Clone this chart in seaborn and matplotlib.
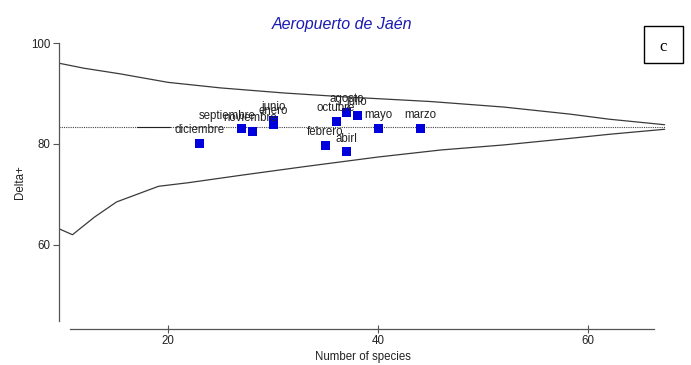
import matplotlib
matplotlib.use("Agg")
import matplotlib.pyplot as plt
import seaborn as sns
import pandas as pd
from matplotlib.patches import Rectangle

# ---- data ----
months = ["diciembre", "septiembre", "noviembre", "junio", "enero", "octubre",
          "agosto", "julio", "mayo", "marzo", "febrero", "abirl"]
species = [23, 27, 28, 30, 30, 36, 37, 38, 40, 44, 35, 37]
delta = [80.1, 83.0, 82.5, 84.65, 83.8, 84.4, 86.3, 85.6, 83.1, 83.0, 79.7, 78.4]

upper_x = [9.6, 12.0, 15.4, 20.0, 25.0, 31.0, 37.0, 45.0, 52.0, 58.3, 62.0, 67.3]
upper_y = [96.0, 95.0, 93.9, 92.2, 91.1, 90.1, 89.3, 88.4, 87.3, 85.9, 84.9, 83.8]
lower_x = [9.6, 10.9, 13.0, 15.1, 19.1, 21.9, 27.0, 33.0, 40.0, 46.0, 52.0, 58.3, 62.0, 67.3]
lower_y = [63.2, 62.0, 65.5, 68.5, 71.6, 72.3, 73.8, 75.5, 77.4, 78.8, 79.8, 81.1, 81.9, 82.9]
mean_delta = 83.4

x_ticks = [20, 40, 60]
y_ticks = [60, 80, 100]

sns.set_theme(style="white")
plt.rcParams["font.family"] = ["Liberation Sans", "DejaVu Sans"]

W, H = 691, 365
fig = plt.figure(figsize=(W / 100, H / 100), dpi=100)

x0, x1 = 9.57, 67.5
y0, y1 = 44.9, 100.0
left_px, top_px, bottom_px = 58.5, 43, 321
ppx = 10.5
right_px = left_px + (x1 - x0) * ppx
ax = fig.add_axes([left_px / W, 1 - bottom_px / H, (right_px - left_px) / W, (bottom_px - top_px) / H])
ax.set_xlim(x0, x1)
ax.set_ylim(y0, y1)

line_col = "#3a3a3a"
df_up = pd.DataFrame({"x": upper_x, "y": upper_y})
df_lo = pd.DataFrame({"x": lower_x, "y": lower_y})
sns.lineplot(data=df_up, x="x", y="y", ax=ax, color=line_col, lw=0.9, sort=False, estimator=None)
sns.lineplot(data=df_lo, x="x", y="y", ax=ax, color=line_col, lw=0.9, sort=False, estimator=None)
ax.plot([x0, 67.3], [mean_delta, mean_delta], color="#444444", lw=0.8, ls=(0, (1, 1)))
ax.plot([17.0, 20.2], [mean_delta, mean_delta], color="#222222", lw=0.8)

df_pts = pd.DataFrame({"species": species, "delta": delta, "month": months})
sns.scatterplot(data=df_pts, x="species", y="delta", ax=ax, marker="s", s=42,
                color="#0000dd", edgecolor="none", zorder=5, legend=False)

offsets = {"septiembre": (-10, 9), "noviembre": (-1, 9.5)}
for m, xs, yd in zip(months, species, delta):
    dx, dy = offsets.get(m, (0, 9.7))
    ax.annotate(m, (xs, yd), xytext=(dx, dy), textcoords="offset points",
                ha="center", va="center", fontsize=8.3, color="#222222", zorder=6)

# spines
for s in ["top", "right"]:
    ax.spines[s].set_visible(False)
ax.spines["left"].set_color("#555555")
ax.spines["left"].set_linewidth(0.9)
ax.spines["left"].set_bounds(y0, 100)
ax.spines["bottom"].set_color("#555555")
ax.spines["bottom"].set_linewidth(0.9)
ax.spines["bottom"].set_position(("outward", 5.8))
ax.spines["bottom"].set_bounds(10.7, 66.3)

ax.set_xticks(x_ticks)
ax.set_yticks(y_ticks)
ax.tick_params(axis="x", direction="inout", length=6, width=0.8, color="#555555",
               labelsize=8.3, pad=1, labelcolor="#222222", bottom=True)
ax.tick_params(axis="y", direction="out", length=4, width=0.8, color="#555555",
               labelsize=8.3, pad=1.5, labelcolor="#222222", left=True)
ax.set_xlabel("Number of species", fontsize=8.3, color="#222222", labelpad=3)
ax.set_ylabel("Delta+", fontsize=8.3, color="#222222", labelpad=4)
ax.grid(False)

fig.text(341.7 / W, 1 - 25 / H, "Aeropuerto de Jaén", ha="center", va="center",
         fontsize=11.5, style="italic", color="#1a1ab4")

fig.patches.append(Rectangle((644 / W, 1 - 63 / H), 39 / W, 37 / H, transform=fig.transFigure,
                             fill=False, edgecolor="black", lw=1.0))
fig.text(663.5 / W, 1 - 47 / H, "c", ha="center", va="center", fontsize=12,
         family=["Liberation Serif", "DejaVu Serif"], color="black")

fig.savefig("out.png", dpi=100)
